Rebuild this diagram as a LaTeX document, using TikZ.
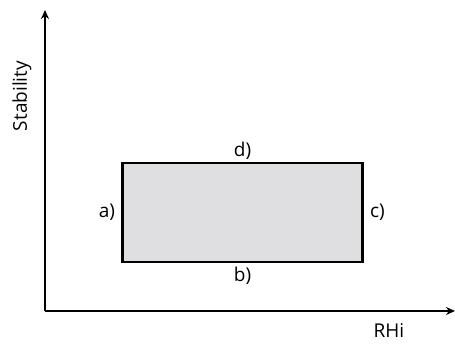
\documentclass[tikz,border=0pt]{standalone}
\usepackage{fontspec}
\setmainfont{Open Sans}
\usetikzlibrary{positioning, arrows.meta}
\definecolor{boxgray}{HTML}{DFDFE1}

\begin{document}
\begin{tikzpicture}[
        x=1pt, y=-1pt,
        font=\fontsize{19}{22}\selectfont,
        axis/.style={-{Stealth[length=9pt, width=8pt]}, line width=1.6pt},
        region/.style={rectangle, draw, fill=boxgray, line width=2.6pt, minimum width=240pt, minimum height=99pt, inner sep=0pt},
        side/.style={inner sep=1pt}
    ]
    \useasboundingbox (0,0) rectangle (455,343);

    \coordinate (origin) at (45,311);
    \coordinate (ytop) at (45,10);
    \coordinate (xend) at (455,311);

    \draw [axis] (origin) -- (ytop);
    \draw [axis] (origin) -- (xend);

    \node (xlabel) at (389,331) {RHi};
    \node (ylabel) [rotate=90] at (22,96) {Stability};

    \node (box) [region] at (242.5,212.5) {};

    \node (a) [side, left=5pt of box.west] {a)};
    \node (b) [side, below=3pt of box.south] {b)};
    \node (c) [side, right=5pt of box.east] {c)};
    \node (d) [side, above=1pt of box.north] {d)};

\end{tikzpicture}
\end{document}
